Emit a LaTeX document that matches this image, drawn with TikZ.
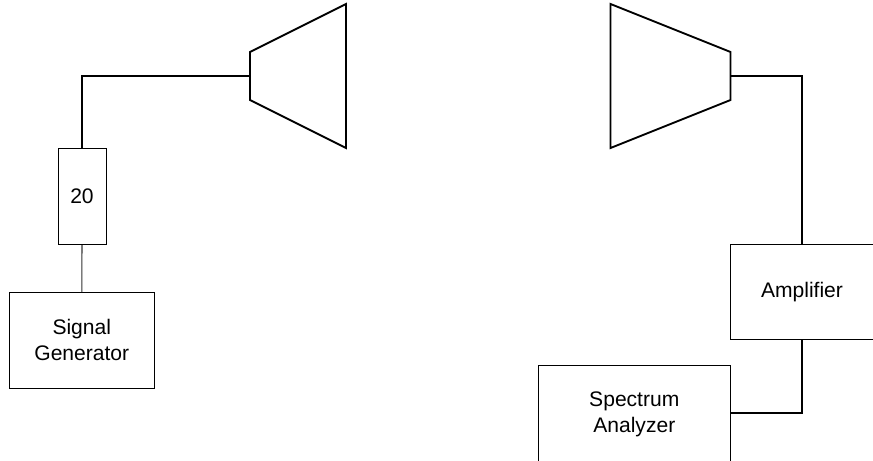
\documentclass[tikz,border=0pt]{standalone}
\usepackage{fontspec}
\setmainfont{Liberation Sans}
\begin{document}
\begin{tikzpicture}[x=0.75pt,y=-0.75pt,
  blockbox/.style={draw=black,line width=0.75pt,inner sep=0pt,align=center,font=\fontsize{15.8}{19.5}\selectfont},
  hornshape/.style={draw=black,line width=1.4pt,line join=miter},
  wire/.style={draw=black,line width=1.5pt,line join=miter},
  thinwire/.style={draw=black!80,line width=0.8pt}]
\clip (0,0) rectangle (873,460);
\node[blockbox,minimum width=36pt,minimum height=72.4pt] (att) at (82,196.4) {20};
\node[blockbox,minimum width=108.4pt,minimum height=71.6pt] (gen) at (81.8,340.4) {Signal\\Generator};
\node[blockbox,minimum width=108pt,minimum height=71.6pt] (amp) at (802,292.2) {Amplifier};
\node[blockbox,minimum width=144.4pt,minimum height=73.5pt] (spec) at (634.3,414) {Spectrum\\Analyzer};
% left horn
\coordinate (lfeed) at (250,76);
\draw[hornshape] (250,52) -- (346,4) -- (346,148) -- (250,100) -- cycle;
% right horn
\coordinate (rfeed) at (730.5,76);
\draw[hornshape] (730.5,52) -- (610.5,4) -- (610.5,148) -- (730.5,100) -- cycle;
% connectors
\draw[wire] (att.north) |- (lfeed);
\draw[wire] (rfeed) -| (amp.north);
\draw[wire] (amp.south) |- ([yshift=1pt]spec.east);
\draw[thinwire] (att.south) -- (gen.north);
\end{tikzpicture}
\end{document}
